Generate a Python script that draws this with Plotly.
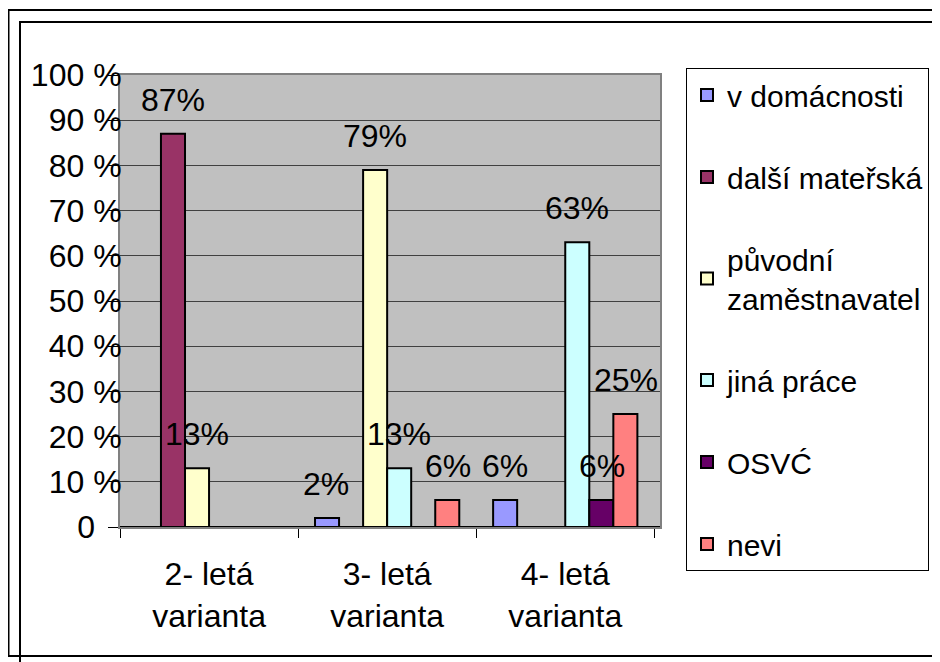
import plotly.graph_objects as go

# Data
categories = ["2- letá<br>varianta", "3- letá<br>varianta", "4- letá<br>varianta"]
series_names = ["v domácnosti", "další mateřská", "původní<br>zaměstnavatel",
                "jiná práce", "OSVĆ", "nevi"]
v_domacnosti = [None, 2, 6]
dalsi_materska = [87, None, None]
puvodni_zamestnavatel = [13, 79, None]
jina_prace = [None, 13, 63]
osvc = [None, None, 6]
nevi = [None, 6, 25]
y_tick_vals = [0, 10, 20, 30, 40, 50, 60, 70, 80, 90, 100]
y_tick_text = ["0\u00a0\u00a0\u00a0", "10 %", "20 %", "30 %", "40 %", "50 %",
               "60 %", "70 %", "80 %", "90 %", "100 %"]

series_values = [v_domacnosti, dalsi_materska, puvodni_zamestnavatel, jina_prace, osvc, nevi]
colors = ["#9999FF", "#993366", "#FFFFCC", "#CCFFFF", "#660066", "#FF8080"]

FONT = "Liberation Sans, Arial, sans-serif"
FS = 32
W, H = 940, 662
OFF = 8  # page body margin: screen px = figure px + OFF
ML, MT = 120 - OFF, 75 - OFF
PW, PH = 540, 452
MR = W - ML - PW
MB = H - MT - PH
BARGAP = 0.19


def px_x(px):
    # screen pixel -> paper x
    return (px - OFF - ML) / PW


def px_y(py):
    # screen pixel -> paper y
    return (MT + PH - (py - OFF)) / PH


fig = go.Figure()

for i, (name, vals, col) in enumerate(zip(series_names, series_values, colors)):
    fig.add_trace(go.Bar(
        x=categories,
        y=vals,
        name=name,
        legendgroup=f"g{i}",
        marker=dict(color=col, line=dict(color="black", width=2)),
    ))

# Data labels sitting well above each bar, Excel-style
bar_w = PW / len(categories) * (1 - BARGAP) / len(series_names)
annotations = []
for i, vals in enumerate(series_values):
    for cat, v in zip(categories, vals):
        if v is None:
            continue
        annotations.append(dict(
            x=cat, y=v, xref="x", yref="y",
            text=f"{v}%", showarrow=False,
            xshift=(i - (len(series_names) - 1) / 2) * bar_w,
            yshift=34, yanchor="middle",
            font=dict(family=FONT, size=FS, color="black"),
        ))

# Outer chart frames
shapes = [
    dict(type="rect", xref="paper", yref="paper",
         x0=px_x(8.5), x1=px_x(960), y0=px_y(656), y1=px_y(10),
         line=dict(color="black", width=2), layer="below"),
    dict(type="rect", xref="paper", yref="paper",
         x0=px_x(20), x1=px_x(980), y0=px_y(700), y1=px_y(22),
         line=dict(color="black", width=2), layer="below"),
]

fig.update_layout(
    width=W,
    height=H,
    margin=dict(l=ML, r=MR, t=MT, b=MB, autoexpand=False),
    plot_bgcolor="#C0C0C0",
    paper_bgcolor="white",
    font=dict(family=FONT, size=FS, color="black"),
    barmode="group",
    bargap=BARGAP,
    bargroupgap=0,
    showlegend=True,
    legend=dict(
        x=px_x(686), y=px_y(68), xanchor="left", yanchor="top",
        maxheight=600,
        bordercolor="black", borderwidth=1, bgcolor="white",
        traceorder="grouped", tracegroupgap=40,
        font=dict(family=FONT, size=30, color="black"),
    ),
    annotations=annotations,
    shapes=shapes,
)

fig.update_xaxes(
    automargin=False,
    showline=True, linecolor="#808080", linewidth=2, mirror=True,
    ticks="outside", tickson="boundaries", ticklen=9, tickcolor="black",
    ticklabelstandoff=18,
    showgrid=False,
    tickfont=dict(family=FONT, size=FS, color="black"),
)
fig.update_yaxes(
    automargin=False,
    range=[0, 100],
    tickvals=y_tick_vals, ticktext=y_tick_text,
    showline=True, linecolor="#808080", linewidth=2, mirror=True,
    ticks="outside", ticklen=10, tickcolor="black",
    ticklabelstandoff=-20,
    showgrid=True, gridcolor="#404040", gridwidth=1,
    zeroline=True, zerolinecolor="black", zerolinewidth=1.5,
    tickfont=dict(family=FONT, size=FS, color="black"),
)

fig.write_html("out.html")
